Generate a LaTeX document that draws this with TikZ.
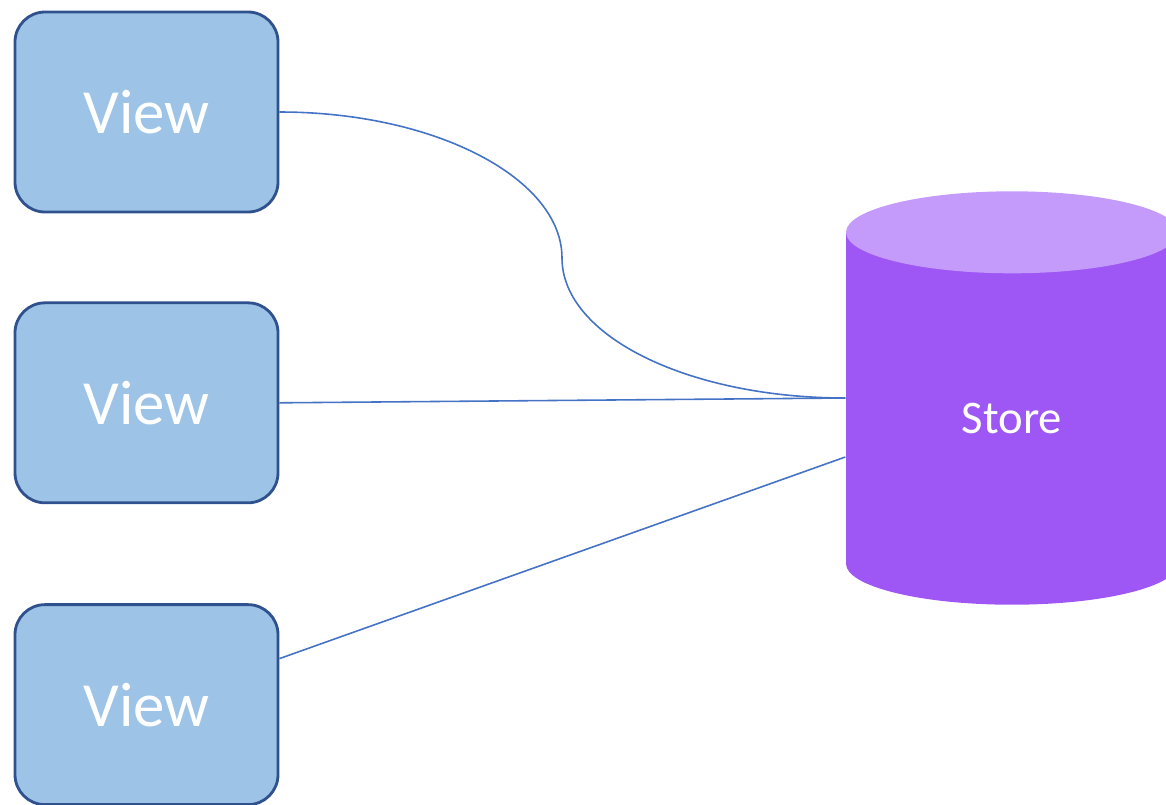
\documentclass[tikz,border=0pt]{standalone}
\usepackage{fontspec}
\setmainfont{Carlito}
\usetikzlibrary{positioning,calc}
\definecolor{vwblue}{RGB}{157,195,230}
\definecolor{vwedge}{RGB}{47,82,143}
\definecolor{stbody}{RGB}{158,87,245}
\definecolor{sttop}{RGB}{196,154,250}
\definecolor{lnblue}{RGB}{68,114,196}

\begin{document}
\begin{tikzpicture}[
  viewbox/.style={draw=vwedge,fill=vwblue,line width=0.8pt,rounded corners=3mm,
              minimum width=26.3mm,minimum height=20mm,inner sep=0pt,
              font=\fontsize{17.9}{20}\selectfont,text=white},
  storebody/.style={fill=stbody,draw=none,minimum width=33.2mm,minimum height=33mm,inner sep=0pt},
  lab/.style={font=\fontsize{13.3}{16}\selectfont,text=white},
  link/.style={lnblue,line width=0.45pt},
  node distance=8.8mm
]
\useasboundingbox (0,0) rectangle (11.66,8.04);

% views
\node[viewbox] (view1) at (1.465,6.92) {View};
\node[viewbox,below=of view1] (view2) {View};
\node[viewbox,below=9.9mm of view2] (view3) {View};

% store
\node[storebody] (store) at (10.12,4.06) {};
\fill[stbody] (store.south) ellipse (1.66 and 0.41);
\fill[sttop] (store.north) ellipse (1.66 and 0.41);
\node[lab] (storelab) at ($(store.center)+(0,-0.2)$) {Store};

% links
\coordinate (bend) at (5.62,5.46);
\draw[link] (view1.east) .. controls +(1.57,0) and +(0,0.79) .. (bend)
            .. controls +(0,-0.78) and +(-1.57,0) .. (store.west);
\draw[link] (view2.east) -- (store.west);
\draw[link] ($(view3.east)+(0,0.46)$) -- ($(store.west)+(0,-0.59)$);

\end{tikzpicture}
\end{document}
